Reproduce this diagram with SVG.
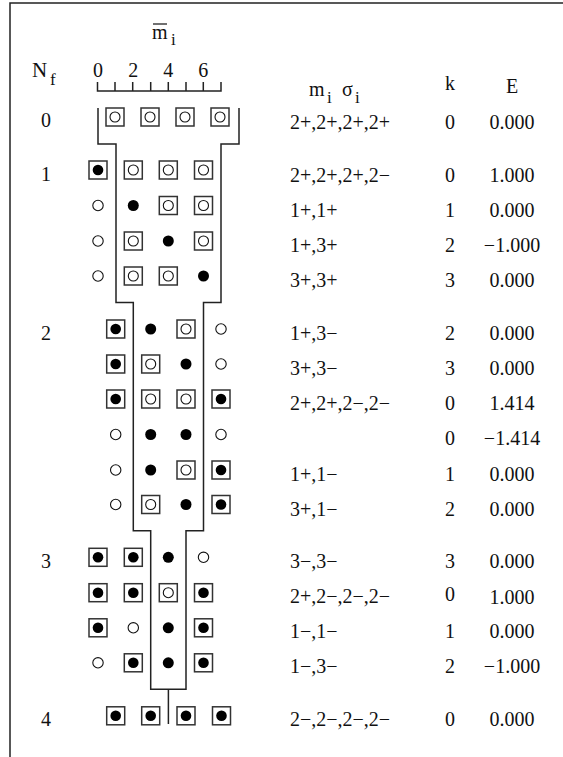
<svg xmlns="http://www.w3.org/2000/svg" xmlns:xlink="http://www.w3.org/1999/xlink" width="563" height="757" viewBox="0 0 563 757">
<style>
.t{font-family:"Liberation Serif","Times New Roman",serif;font-size:20px;fill:#111}
.s{font-size:17px}
.m{text-anchor:middle}
.sq{fill:#fff;stroke:#333;stroke-width:1.5}
.oc{fill:#fff;stroke:#111;stroke-width:1.1}
.fc{fill:#000}
.ln{fill:none;stroke:#222;stroke-width:1.5}
</style>
<defs>
<g id="s0"><rect x="-9" y="-9" width="18" height="18" class="sq"/><circle r="5" class="oc"/></g>
<g id="s1"><rect x="-9" y="-9" width="18" height="18" class="sq"/><circle r="5.3" class="fc"/></g>
<circle id="o" r="5.2" class="oc"/>
<circle id="f" r="5.5" class="fc"/>
</defs>
<rect width="563" height="757" fill="#fff"/>
<g id="frame" class="ln"><path d="M10,757 V3 H563"/></g>

<g id="header">
<text class="t" x="32" y="77" style="font-size:21px">N</text><text class="t s" x="50" y="85">f</text>
<text class="t" x="152" y="39">m</text><line x1="153" y1="24" x2="167" y2="24" stroke="#111" stroke-width="1.2"/><text class="t s" x="171" y="45">i</text>
<text class="t m" x="98" y="77">0</text><text class="t m" x="133.3" y="77">2</text><text class="t m" x="168.3" y="77">4</text><text class="t m" x="203.3" y="77">6</text>
<path class="ln" d="M97.5,82 V91 H221 V82 M115,91 V82 M132.7,91 V82 M150.7,91 V82 M168.3,91 V82 M186,91 V82 M203.3,91 V82"/>
<text class="t" x="309" y="96">m</text><text class="t s" x="327" y="103">i</text><text class="t" x="342" y="96">σ</text><text class="t s" x="355" y="103">i</text>
<text class="t m" x="450" y="90">k</text>
<text class="t m" x="512" y="93">E</text>
</g>

<g id="connectors">
<path class="ln" d="M98,108 V144 H116 V302.5 H133.3 V530.7 H150.7 V689.3 H186 V530.7 H203.5 V302.5 H221 V144 H239 V108"/>
<path class="ln" d="M168.4,689.3 V724"/>
</g>

<g id="nf0"><text class="t m" x="46" y="127">0</text>
<use href="#s0" x="115" y="117"/><use href="#s0" x="150" y="117"/><use href="#s0" x="185" y="117"/><use href="#s0" x="220" y="117"/>
<text class="t" x="290" y="129">2+,2+,2+,2+</text><text class="t m" x="450" y="129">0</text><text class="t m" x="512" y="129">0.000</text></g>

<g id="nf1-r1"><text class="t m" x="46" y="181">1</text>
<use href="#s1" x="98" y="170"/><use href="#s0" x="133.3" y="170"/><use href="#s0" x="168.3" y="170"/><use href="#s0" x="203.5" y="170"/>
<text class="t" x="290" y="182">2+,2+,2+,2−</text><text class="t m" x="450" y="182">0</text><text class="t m" x="512" y="182">1.000</text></g>
<g id="nf1-r2">
<use href="#o" x="98" y="205.5"/><use href="#f" x="133.3" y="205.5"/><use href="#s0" x="168.3" y="205.5"/><use href="#s0" x="203.5" y="205.5"/>
<text class="t" x="290" y="217">1+,1+</text><text class="t m" x="450" y="217">1</text><text class="t m" x="512" y="217">0.000</text></g>
<g id="nf1-r3">
<use href="#o" x="98" y="241"/><use href="#s0" x="133.3" y="241"/><use href="#f" x="168.3" y="241"/><use href="#s0" x="203.5" y="241"/>
<text class="t" x="290" y="252">1+,3+</text><text class="t m" x="450" y="252">2</text><text class="t m" x="512" y="252">−1.000</text></g>
<g id="nf1-r4">
<use href="#o" x="98" y="276"/><use href="#s0" x="133.3" y="276"/><use href="#s0" x="168.3" y="276"/><use href="#f" x="203.5" y="276"/>
<text class="t" x="290" y="287">3+,3+</text><text class="t m" x="450" y="287">3</text><text class="t m" x="512" y="287">0.000</text></g>

<g id="nf2-r1"><text class="t m" x="46" y="340">2</text>
<use href="#s1" x="115.7" y="329"/><use href="#f" x="150.7" y="329"/><use href="#s0" x="186" y="329"/><use href="#o" x="221" y="329"/>
<text class="t" x="290" y="340">1+,3−</text><text class="t m" x="450" y="340">2</text><text class="t m" x="512" y="340">0.000</text></g>
<g id="nf2-r2">
<use href="#s1" x="115.7" y="364"/><use href="#s0" x="150.7" y="364"/><use href="#f" x="186" y="364"/><use href="#o" x="221" y="364"/>
<text class="t" x="290" y="375">3+,3−</text><text class="t m" x="450" y="375">3</text><text class="t m" x="512" y="375">0.000</text></g>
<g id="nf2-r3">
<use href="#s1" x="115.7" y="399"/><use href="#s0" x="150.7" y="399"/><use href="#s0" x="186" y="399"/><use href="#s1" x="221" y="399"/>
<text class="t" x="290" y="410">2+,2+,2−,2−</text><text class="t m" x="450" y="410">0</text><text class="t m" x="512" y="410">1.414</text></g>
<g id="nf2-r4">
<use href="#o" x="115.7" y="434.5"/><use href="#f" x="150.7" y="434.5"/><use href="#f" x="186" y="434.5"/><use href="#o" x="221" y="434.5"/>
<text class="t m" x="450" y="445">0</text><text class="t m" x="512" y="445">−1.414</text></g>
<g id="nf2-r5">
<use href="#o" x="115.7" y="470"/><use href="#f" x="150.7" y="470"/><use href="#s0" x="186" y="470"/><use href="#s1" x="221" y="470"/>
<text class="t" x="290" y="481">1+,1−</text><text class="t m" x="450" y="481">1</text><text class="t m" x="512" y="481">0.000</text></g>
<g id="nf2-r6">
<use href="#o" x="115.7" y="504.5"/><use href="#s0" x="150.7" y="504.5"/><use href="#f" x="186" y="504.5"/><use href="#s1" x="221" y="504.5"/>
<text class="t" x="290" y="516">3+,1−</text><text class="t m" x="450" y="516">2</text><text class="t m" x="512" y="516">0.000</text></g>

<g id="nf3-r1"><text class="t m" x="46" y="568">3</text>
<use href="#s1" x="98" y="557.3"/><use href="#s1" x="133.3" y="557.3"/><use href="#f" x="168.3" y="557.3"/><use href="#o" x="203.5" y="557.3"/>
<text class="t" x="290" y="568">3−,3−</text><text class="t m" x="450" y="568">3</text><text class="t m" x="512" y="568">0.000</text></g>
<g id="nf3-r2">
<use href="#s1" x="98" y="592.7"/><use href="#s1" x="133.3" y="592.7"/><use href="#s0" x="168.3" y="592.7"/><use href="#s1" x="203.5" y="592.7"/>
<text class="t" x="290" y="603">2+,2−,2−,2−</text><text class="t m" x="450" y="601">0</text><text class="t m" x="512" y="604">1.000</text></g>
<g id="nf3-r3">
<use href="#s1" x="98" y="627.8"/><use href="#o" x="133.3" y="627.8"/><use href="#f" x="168.3" y="627.8"/><use href="#s1" x="203.5" y="627.8"/>
<text class="t" x="290" y="638">1−,1−</text><text class="t m" x="450" y="638">1</text><text class="t m" x="512" y="638">0.000</text></g>
<g id="nf3-r4">
<use href="#o" x="98" y="662.8"/><use href="#s1" x="133.3" y="662.8"/><use href="#f" x="168.3" y="662.8"/><use href="#s1" x="203.5" y="662.8"/>
<text class="t" x="290" y="673">1−,3−</text><text class="t m" x="450" y="673">2</text><text class="t m" x="512" y="673">−1.000</text></g>

<g id="nf4"><text class="t m" x="46" y="726">4</text>
<use href="#s1" x="115.7" y="715.8"/><use href="#s1" x="150.7" y="715.8"/><use href="#s1" x="186" y="715.8"/><use href="#s1" x="221.5" y="715.8"/>
<text class="t" x="290" y="726">2−,2−,2−,2−</text><text class="t m" x="450" y="726">0</text><text class="t m" x="512" y="726">0.000</text></g>
</svg>
